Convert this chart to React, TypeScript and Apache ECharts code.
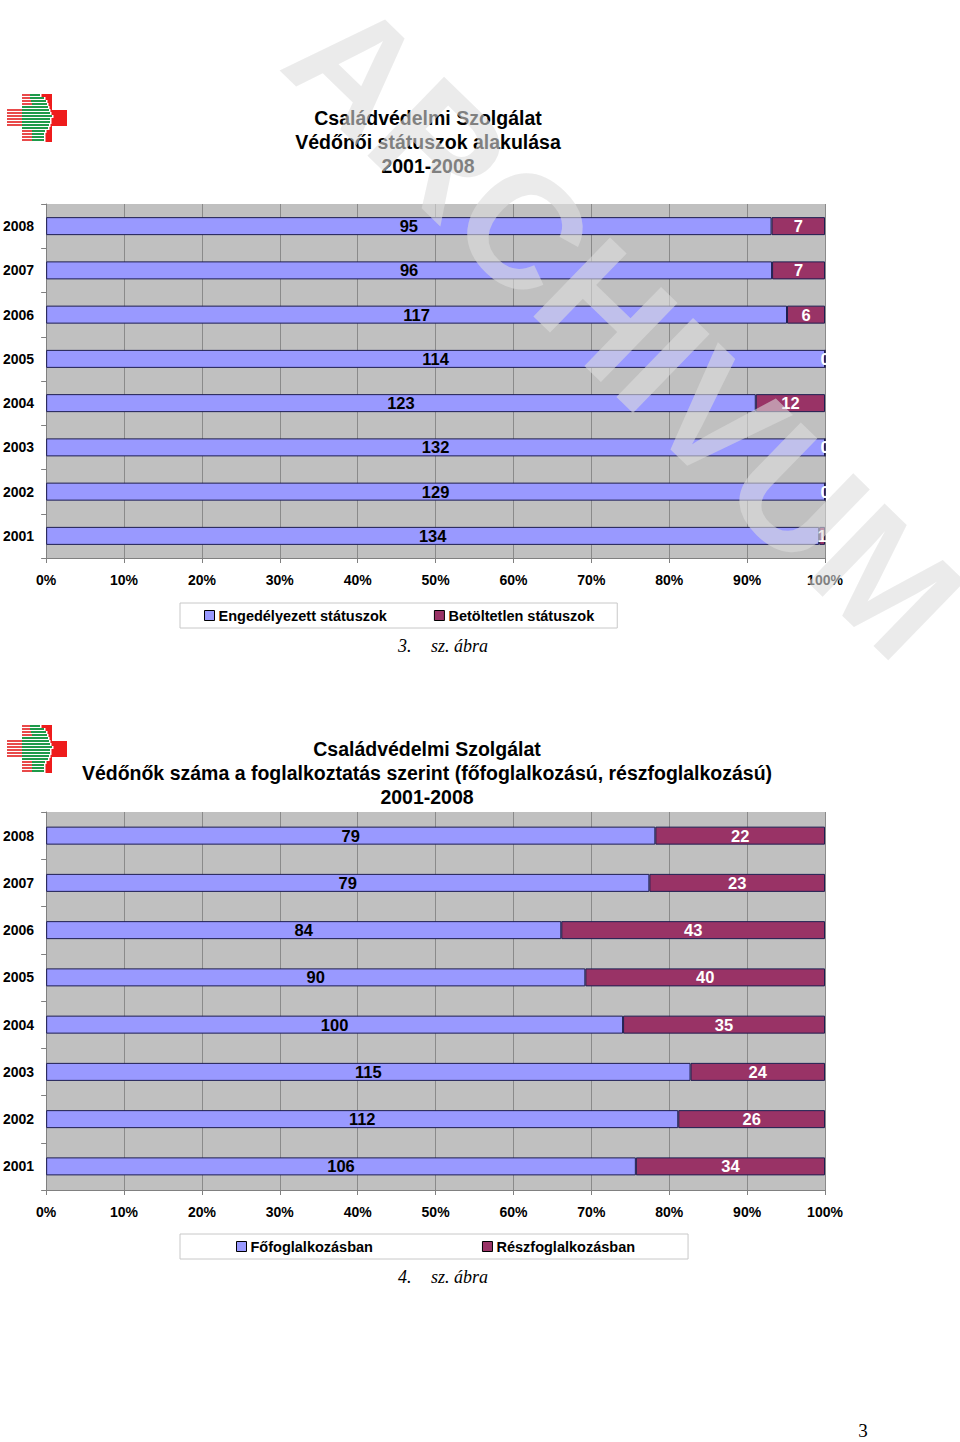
import React, { useEffect, useRef } from "react";
import * as echarts from "echarts";

// ---- Data ----
const years = ["2001", "2002", "2003", "2004", "2005", "2006", "2007", "2008"];
// Chart 1 (3. sz. ábra)
const engedelyezett = [134, 129, 132, 123, 114, 117, 96, 95];
const betoltetlen = [1, 0, 0, 12, 0, 6, 7, 7];
// Chart 2 (4. sz. ábra)
const fofoglalkozas = [106, 112, 115, 100, 90, 84, 79, 79];
const reszfoglalkozas = [34, 26, 24, 35, 40, 43, 23, 22];

const title1 = ["Családvédelmi Szolgálat", "Védőnői státuszok alakulása", "2001-2008"];
const title2 = [
  "Családvédelmi Szolgálat",
  "Védőnők száma a foglalkoztatás szerint (főfoglalkozású, részfoglalkozású)",
  "2001-2008",
];
const seriesNames1 = ["Engedélyezett státuszok", "Betöltetlen státuszok"];
const seriesNames2 = ["Főfoglalkozásban", "Részfoglalkozásban"];

const SANS = '"Liberation Sans", Arial, sans-serif';
const SERIF = '"Liberation Serif", "Times New Roman", serif';
const BLUE = "#9999FF";
const PLUM = "#993366";
const BORDER = "#1E1E50";

function pct(a: number[], b: number[], first: boolean) {
  return a.map((v, i) => {
    const t = v + b[i];
    return t === 0 ? 0 : ((first ? v : b[i]) / t) * 100;
  });
}

function logo(ox: number, oy: number) {
  const els: any[] = [];
  els.push({ type: "rect", shape: { x: ox + 31, y: oy, width: 14, height: 48 }, style: { fill: "#EE1C1C" } });
  els.push({ type: "rect", shape: { x: ox + 45, y: oy + 16, width: 15, height: 16 }, style: { fill: "#EE1C1C" } });
  const ge = [33, 37, 39, 40, 41, 42, 43, 45, 43, 43, 42, 41, 38, 37, 37, 37];
  const gs = [23, 23, 24, 25, 15, 15, 15, 15, 15, 15, 15, 15, 25, 25, 25, 25];
  for (let k = 0; k < 16; k++) {
    const y = oy + k * 3;
    els.push({ type: "rect", shape: { x: ox + 15, y, width: ge[k] - 15 + 1.5, height: 3 }, style: { fill: "#fff" } });
    els.push({ type: "rect", shape: { x: ox + 15, y, width: gs[k] - 15, height: 2 }, style: { fill: "#E84A4A" } });
    els.push({ type: "rect", shape: { x: ox + gs[k], y, width: ge[k] - gs[k], height: 2 }, style: { fill: "#1E9A4A" } });
    if (y >= oy + 15 && y <= oy + 31) {
      els.push({ type: "rect", shape: { x: ox, y, width: 15, height: 2 }, style: { fill: "#E84A4A" } });
    }
  }
  return els;
}

export default function App() {
  const ref = useRef<HTMLDivElement>(null);
  useEffect(() => {
    if (!ref.current) return;
    const chart = echarts.init(ref.current, null, { renderer: "svg" });

    const grids = [
      { left: 45, top: 204, width: 780, height: 354 },
      { left: 45, top: 812, width: 780, height: 378 },
    ];

    const xAxis = [0, 1].map((i) => ({
      type: "value",
      gridIndex: i,
      min: 0,
      max: 100,
      interval: 10,
      axisLine: { show: true, lineStyle: { color: "#808080", width: 1 } },
      axisTick: { show: true, length: 5, lineStyle: { color: "#808080" } },
      splitLine: { show: true, lineStyle: { color: "#8A8A8A", width: 1 } },
      axisLabel: {
        formatter: "{value}%",
        margin: 15,
        color: "#000",
        fontWeight: "bold",
        fontSize: 14,
        fontFamily: SANS,
      },
    }));

    const yAxis = [0, 1].map((i) => ({
      type: "category",
      gridIndex: i,
      data: years,
      axisLine: { show: true, lineStyle: { color: "#808080", width: 1 } },
      axisTick: { show: true, length: 5, lineStyle: { color: "#808080" } },
      axisLabel: {
        margin: 12,
        color: "#000",
        fontWeight: "bold",
        fontSize: 14,
        fontFamily: SANS,
      },
      splitLine: { show: false },
    }));

    const mkSeries = (
      name: string,
      idx: number,
      vals: number[],
      pctVals: number[],
      color: string,
      labelColor: string
    ) => ({
      name,
      type: "bar",
      stack: "s" + idx,
      xAxisIndex: idx,
      yAxisIndex: idx,
      barWidth: 18,
      data: pctVals,
      itemStyle: { color, borderColor: BORDER, borderWidth: 1 },
      label: {
        show: true,
        position: "inside",
        formatter: (p: any) => String(vals[p.dataIndex]),
        color: labelColor,
        fontWeight: "bold",
        fontSize: 16.5,
        fontFamily: SANS,
      },
    });

    const legendBase = {
      orient: "horizontal",
      backgroundColor: "#fff",
      borderColor: "#C8C8C8",
      borderWidth: 1,
      itemWidth: 10,
      itemHeight: 10,
      icon: "rect",
      itemStyle: { borderColor: "#000", borderWidth: 1 },
      textStyle: { fontWeight: "bold", fontSize: 14.5, color: "#000", fontFamily: SANS, padding: [0, 0, 0, -1] },
      selectedMode: false,
    };

    const titleFont = `bold 19.5px ${SANS}`;
    const graphic: any[] = [
      ...logo(7, 94),
      ...logo(7, 725),
      {
        type: "text",
        x: 428,
        y: 106,
        style: { text: title1.join("\n"), font: titleFont, fill: "#000", textAlign: "center", lineHeight: 24 },
      },
      {
        type: "text",
        x: 427,
        y: 737,
        style: { text: title2.join("\n"), font: titleFont, fill: "#000", textAlign: "center", lineHeight: 24 },
      },
      { type: "text", x: 398, y: 637, style: { text: "3.", font: `italic 18px ${SERIF}`, fill: "#000" } },
      { type: "text", x: 431, y: 637, style: { text: "sz. ábra", font: `italic 18px ${SERIF}`, fill: "#000" } },
      { type: "text", x: 398, y: 1268, style: { text: "4.", font: `italic 18px ${SERIF}`, fill: "#000" } },
      { type: "text", x: 431, y: 1268, style: { text: "sz. ábra", font: `italic 18px ${SERIF}`, fill: "#000" } },
      {
        type: "text",
        x: 863,
        y: 1421,
        style: { text: "3", font: `19px ${SERIF}`, fill: "#000", textAlign: "center" },
      },
      {
        type: "text",
        x: 625,
        y: 328,
        rotation: -0.77,
        z: 100,
        style: {
          text: "ARCHIVUM",
          font: `bold 160px ${SANS}`,
          fill: "rgba(220,220,220,0.58)",
          textAlign: "center",
          textVerticalAlign: "middle",
        },
      },
    ];

    chart.setOption({
      animation: false,
      backgroundColor: "#fff",
      grid: grids.map((g) => ({ ...g, show: true, backgroundColor: "#C0C0C0", borderWidth: 0, containLabel: false })),
      xAxis,
      yAxis,
      legend: [
        { ...legendBase, left: 180, top: 603, padding: [5, 23, 5, 24], itemGap: 47, data: seriesNames1 },
        { ...legendBase, left: 180, top: 1234, padding: [5, 53, 5, 56], itemGap: 109, data: seriesNames2 },
      ],
      series: [
        mkSeries(seriesNames1[0], 0, engedelyezett, pct(engedelyezett, betoltetlen, true), BLUE, "#000"),
        mkSeries(seriesNames1[1], 0, betoltetlen, pct(engedelyezett, betoltetlen, false), PLUM, "#fff"),
        mkSeries(seriesNames2[0], 1, fofoglalkozas, pct(fofoglalkozas, reszfoglalkozas, true), BLUE, "#000"),
        mkSeries(seriesNames2[1], 1, reszfoglalkozas, pct(fofoglalkozas, reszfoglalkozas, false), PLUM, "#fff"),
      ],
      graphic,
    });
    return () => chart.dispose();
  }, []);
  return (
    <div
      ref={ref}
      style={{ position: "absolute", left: 0, top: 0, width: 960, height: 1442 }}
    />
  );
}
